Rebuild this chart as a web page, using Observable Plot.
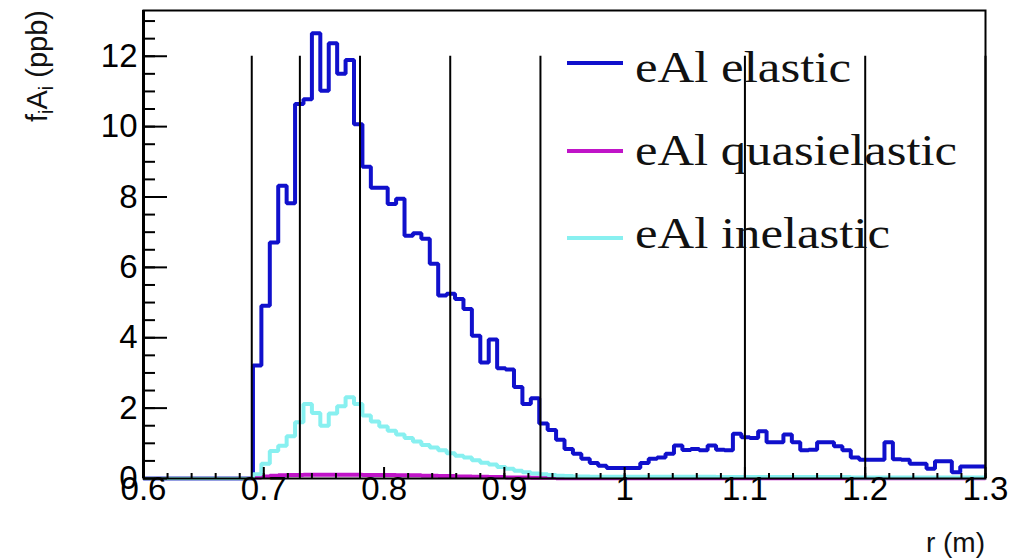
<!DOCTYPE html>
<html><head><meta charset="utf-8">
<script src="https://cdn.jsdelivr.net/npm/d3@7"></script>
<script src="https://cdn.jsdelivr.net/npm/@observablehq/plot@0.6"></script>
<style>
html,body{margin:0;padding:0;background:#fff;}
#chart{width:1020px;height:559px;overflow:hidden;}
</style></head><body><div id="chart"></div>
<script>
// Histogram binning: 100 bins from 0.6 to 1.3 m
const binStart = 0.6, binWidth = 0.007;

const elastic = [
  0,0,0,0,0,0,0,0,0,0,
  0,0,0,3.21,4.91,6.71,8.32,7.82,10.64,10.78,
  12.65,11.02,12.37,11.50,11.89,10.07,8.86,8.26,8.26,7.80,
  7.95,6.90,6.97,6.81,6.10,5.20,5.25,5.10,4.82,4.06,
  3.30,3.95,3.13,3.10,2.60,2.12,2.28,1.56,1.38,1.10,
  0.84,0.70,0.56,0.44,0.36,0.30,0.30,0.30,0.30,0.44,
  0.56,0.60,0.70,0.94,0.81,0.84,0.80,0.94,0.82,0.80,
  1.27,1.17,1.15,1.34,1.03,1.03,1.25,1.03,0.80,0.82,
  1.03,1.03,0.92,0.80,0.60,0.53,0.53,0.53,1.03,0.55,
  0.53,0.42,0.42,0.28,0.49,0.49,0.18,0.34,0.34,0.34
];
const quasielastic = [
  0,0,0,0,0,0,0,0,0,0,
  0,0,0,0.03,0.06,0.08,0.09,0.10,0.10,0.11,
  0.11,0.11,0.11,0.11,0.11,0.11,0.10,0.10,0.10,0.10,
  0.09,0.09,0.09,0.08,0.08,0.07,0.07,0.06,0.06,0.05,
  0.05,0.04,0.04,0.03,0.03,0.03,0.02,0.02,0.02,0.01,
  0.01,0.01,0.01,0.01,0.01,0.01,0.01,0.01,0.01,0.01,
  0.01,0.01,0.01,0.01,0.01,0.01,0.01,0.01,0.01,0.01,
  0.01,0.01,0.01,0.01,0.01,0.01,0.01,0.01,0.01,0.01,
  0.01,0.01,0.01,0.01,0.01,0.01,0.01,0.01,0.01,0.01,
  0.01,0.01,0.01,0.01,0.01,0.01,0.01,0.01,0.01,0.01
];
const inelastic = [
  0,0,0,0,0,0,0,0,0,0,
  0,0,0,0.12,0.42,0.78,0.93,1.20,1.60,2.12,
  1.86,1.50,1.85,2.05,2.31,2.12,1.79,1.62,1.48,1.36,
  1.25,1.15,1.05,0.95,0.88,0.80,0.72,0.65,0.60,0.52,
  0.45,0.40,0.33,0.28,0.22,0.18,0.14,0.12,0.10,0.08,
  0.07,0.06,0.06,0.05,0.05,0.05,0.05,0.05,0.05,0.05,
  0.05,0.05,0.05,0.05,0.05,0.05,0.05,0.05,0.04,0.04,
  0.04,0.04,0.04,0.04,0.04,0.04,0.04,0.04,0.04,0.04,
  0.04,0.04,0.04,0.04,0.03,0.03,0.03,0.03,0.03,0.03,
  0.03,0.03,0.03,0.03,0.03,0.03,0.03,0.03,0.03,0.03
];

const ringEdges = [0.69, 0.73, 0.78, 0.855, 0.93, 1.10, 1.20, 1.30];
const ringLineTop = 12;

const xTickValues = [0.6, 0.7, 0.8, 0.9, 1.0, 1.1, 1.2, 1.3];
const xTickLabels = ["0.6", "0.7", "0.8", "0.9", "1", "1.1", "1.2", "1.3"];
const xMinorTicks = d3.range(0, 36).map(i => 0.6 + i * 0.02);
const yTickValues = [0, 2, 4, 6, 8, 10, 12];
const yTickLabels = ["0", "2", "4", "6", "8", "10", "12"];
const yMinorTicks = d3.range(0, 27).map(i => i * 0.5);

const seriesNames = ["eAl elastic", "eAl quasielastic", "eAl inelastic"];
const seriesColors = ["#1010cc", "#c014c8", "#88f0f0"];
const xTitle = "r (m)";

function steps(values) {
  const pts = values.map((v, i) => ({x: binStart + i * binWidth, y: v}));
  pts.push({x: binStart + values.length * binWidth, y: values[values.length - 1]});
  return pts;
}

const W = 1020, H = 559, mL = 143, mR = 35, mT = 10, mB = 81;
const plotW = W - mL - mR, plotH = H - mT - mB;
const sansFont = "'Liberation Sans', Arial, Helvetica, sans-serif";
const serifFont = "'Liberation Serif', 'Times New Roman', serif";

const lineOpts = (c) => ({x: "x", y: "y", curve: "step-after", stroke: c, strokeWidth: 4, strokeLinejoin: "miter", strokeLinecap: "butt"});

const svg = Plot.plot({
  width: W, height: H,
  marginLeft: mL, marginRight: mR, marginTop: mT, marginBottom: mB,
  style: {fontFamily: sansFont, fontSize: "33px", color: "#000", background: "#fff", overflow: "visible"},
  x: {domain: [0.6, 1.3]},
  y: {domain: [0, 13.3]},
  marks: [
    Plot.line(steps(elastic), lineOpts(seriesColors[0])),
    Plot.line(steps(quasielastic), lineOpts(seriesColors[1])),
    Plot.line(steps(inelastic), lineOpts(seriesColors[2])),
    Plot.tickY(yMinorTicks, {y: d => d, insetRight: plotW - 12, stroke: "#000", strokeWidth: 2}),
    Plot.tickY(yTickValues, {y: d => d, insetRight: plotW - 24, stroke: "#000", strokeWidth: 2}),
    Plot.tickX(xMinorTicks, {x: d => d, insetTop: plotH - 5, stroke: "#000", strokeWidth: 2}),
    Plot.tickX(xTickValues, {x: d => d, insetTop: plotH - 11, stroke: "#000", strokeWidth: 2}),
    Plot.frame({stroke: "#000", strokeWidth: 2}),
    Plot.ruleX([0.6], {stroke: "#000", strokeWidth: 3}),
    Plot.ruleX(ringEdges, {x: d => d, y1: 0, y2: ringLineTop, stroke: "#000", strokeWidth: 2, ariaLabel: "ring-edges"}),
    Plot.axisY(yTickValues, {tickSize: 0, tickPadding: 6, label: null, fontSize: 33,
      tickFormat: d => yTickLabels[yTickValues.indexOf(d)]}),
    Plot.axisX(xTickValues, {tickSize: 0, tickPadding: -2, label: null, fontSize: 33,
      tickFormat: d => xTickLabels[xTickValues.indexOf(d)]})
  ]
});

const NS = "http://www.w3.org/2000/svg";
function el(tag, attrs, parent, text) {
  const e = document.createElementNS(NS, tag);
  for (const k in attrs) e.setAttribute(k, attrs[k]);
  if (text != null) e.textContent = text;
  if (parent) parent.appendChild(e);
  return e;
}

// Legend (drawn beneath the ring-edge lines, as in the reference)
const legend = el("g", {"aria-label": "legend"}, null);
const legendRowsY = [63, 151, 238];
const legendTextLen = [216, 322, 255];
seriesNames.forEach((name, i) => {
  el("line", {x1: 567, x2: 623, y1: legendRowsY[i], y2: legendRowsY[i], stroke: seriesColors[i], "stroke-width": 4}, legend);
  el("text", {x: 635, y: legendRowsY[i] + [19, 14, 10][i], "text-anchor": "start", "font-family": serifFont, "font-size": 44, fill: "#111",
    textLength: legendTextLen[i], lengthAdjust: "spacingAndGlyphs"}, legend, name);
});
svg.appendChild(legend);
const rings = svg.querySelector('g[aria-label="ring-edges"]');
if (rings) svg.appendChild(rings);

// Y axis title with subscripts
const yt = el("text", {transform: "translate(47,10) rotate(-90)", "text-anchor": "end",
  "font-family": sansFont, "font-size": 29, fill: "#111"}, svg);
el("tspan", {}, yt, "f");
el("tspan", {dy: 6, "font-size": 20}, yt, "i");
el("tspan", {dy: -6}, yt, "A");
el("tspan", {dy: 6, "font-size": 20}, yt, "i");
el("tspan", {dy: -6}, yt, " (ppb)");

// X axis title
el("text", {x: 985, y: 552, "text-anchor": "end", "font-family": sansFont, "font-size": 28, fill: "#111"}, svg, xTitle);

document.getElementById("chart").appendChild(svg);
</script>
</body></html>
